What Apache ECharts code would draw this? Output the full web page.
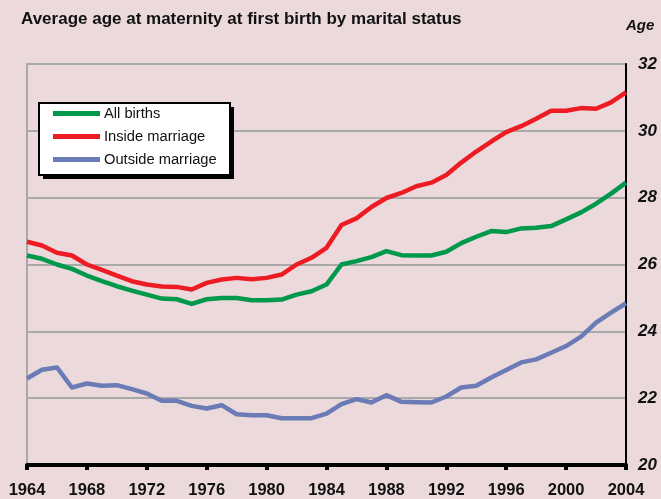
<!DOCTYPE html>
<html>
<head>
<meta charset="utf-8">
<script src="https://cdn.jsdelivr.net/npm/echarts@6/dist/echarts.min.js"></script>
<style>
html, body { margin: 0; padding: 0; background: #ebd9dc; }
#chart { width: 661px; height: 499px; }
</style>
</head>
<body>
<div id="chart"></div>
<script>
// years 1964 .. 2004
const years = [1964, 1965, 1966, 1967, 1968, 1969, 1970, 1971, 1972, 1973, 1974,
  1975, 1976, 1977, 1978, 1979, 1980, 1981, 1982, 1983, 1984, 1985, 1986, 1987,
  1988, 1989, 1990, 1991, 1992, 1993, 1994, 1995, 1996, 1997, 1998, 1999, 2000,
  2001, 2002, 2003, 2004]
const allBirths = [26.27, 26.17, 26.0, 25.87, 25.67, 25.5, 25.35, 25.22, 25.1, 24.98, 24.96,
  24.82, 24.96, 25.0, 25.0, 24.93, 24.93, 24.95, 25.1, 25.2, 25.4, 26.0, 26.1, 26.22,
  26.4, 26.28, 26.27, 26.27, 26.38, 26.64, 26.83, 27.0, 26.97, 27.08, 27.1, 27.15, 27.35,
  27.56, 27.82, 28.12, 28.45]
const insideMarriage = [26.68, 26.57, 26.35, 26.27, 26.0, 25.84, 25.67, 25.5, 25.4, 25.34, 25.33,
  25.25, 25.45, 25.55, 25.6, 25.56, 25.6, 25.7, 26.0, 26.2, 26.5, 27.18, 27.38, 27.72,
  27.99, 28.14, 28.34, 28.45, 28.68, 29.05, 29.38, 29.68, 29.96, 30.14, 30.36, 30.6, 30.6,
  30.68, 30.66, 30.85, 31.15]
const outsideMarriage = [22.59, 22.85, 22.92, 22.32, 22.44, 22.37, 22.39, 22.27, 22.14, 21.92, 21.92,
  21.77, 21.69, 21.79, 21.52, 21.49, 21.49, 21.4, 21.4, 21.4, 21.54, 21.82, 21.97, 21.87,
  22.09, 21.89, 21.88, 21.87, 22.05, 22.32, 22.37, 22.62, 22.84, 23.07, 23.16, 23.36, 23.56,
  23.84, 24.26, 24.56, 24.84]
const seriesNames = ['All births', 'Inside marriage', 'Outside marriage']
const colors = ['#00984a', '#ed1c24', '#6a7bb6']

const pairs = (vals) => years.map((y, i) => [y, vals[i]])
const font = 'Liberation Sans'

const myChart = echarts.init(document.getElementById('chart'))
const option = {
  backgroundColor: '#ebd9dc',
  animation: false,
  title: [{
    text: 'Average age at maternity at first birth by marital status',
    left: 16,
    top: 6,
    textStyle: { fontFamily: font, fontWeight: 'bold', fontSize: 17, color: '#111' }
  }, {
    text: 'Age',
    left: 621,
    top: 13,
    textStyle: { fontFamily: font, fontWeight: 'bold', fontStyle: 'italic', fontSize: 15, color: '#111' }
  }],
  // 图例框：黑色投影 + 白底黑边
  graphic: [{
    type: 'rect',
    shape: { x: 43, y: 107, width: 191, height: 72 },
    style: { fill: '#000' },
    z: 10
  }, {
    type: 'rect',
    shape: { x: 39, y: 103, width: 191, height: 72 },
    style: { fill: '#fff', stroke: '#000', lineWidth: 2 },
    z: 11
  }],
  legend: {
    data: seriesNames,
    orient: 'vertical',
    left: 48,
    top: 106,
    padding: [0, 0, 0, 5],
    itemWidth: 47,
    itemHeight: 5,
    itemGap: 8,
    icon: 'rect',
    z: 20,
    textStyle: { fontFamily: font, fontSize: 14.7, color: '#111', padding: [0, 0, 0, -1] }
  },
  grid: {
    show: true,
    left: 27,
    right: 35,
    top: 64,
    bottom: 33,
    borderColor: '#a9a9a9',
    borderWidth: 2,
    backgroundColor: 'transparent'
  },
  xAxis: {
    type: 'value',
    min: 1964,
    max: 2004,
    interval: 4,
    axisLine: { lineStyle: { color: '#000', width: 4 } },
    axisTick: { show: true, length: 5, lineStyle: { color: '#000', width: 4 } },
    axisLabel: {
      fontFamily: font,
      fontWeight: 'bold',
      fontSize: 16.5,
      color: '#111',
      margin: 17,
      formatter: (v) => String(v)
    },
    splitLine: { show: false }
  },
  yAxis: {
    type: 'value',
    position: 'right',
    min: 20,
    max: 32,
    interval: 2,
    axisLine: { show: true, lineStyle: { color: '#000', width: 2 } },
    axisTick: { show: false },
    axisLabel: {
      fontFamily: font,
      fontWeight: 'bold',
      fontStyle: 'italic',
      fontSize: 17,
      color: '#111',
      margin: 12
    },
    splitLine: { lineStyle: { color: '#a9a9a9', width: 2 } }
  },
  series: [allBirths, insideMarriage, outsideMarriage].map((vals, i) => ({
    name: seriesNames[i],
    type: 'line',
    data: pairs(vals),
    symbol: 'none',
    color: colors[i],
    lineStyle: { color: colors[i], width: 4.5, join: 'round' },
    z: 3
  }))
}
myChart.setOption(option)
</script>
</body>
</html>
